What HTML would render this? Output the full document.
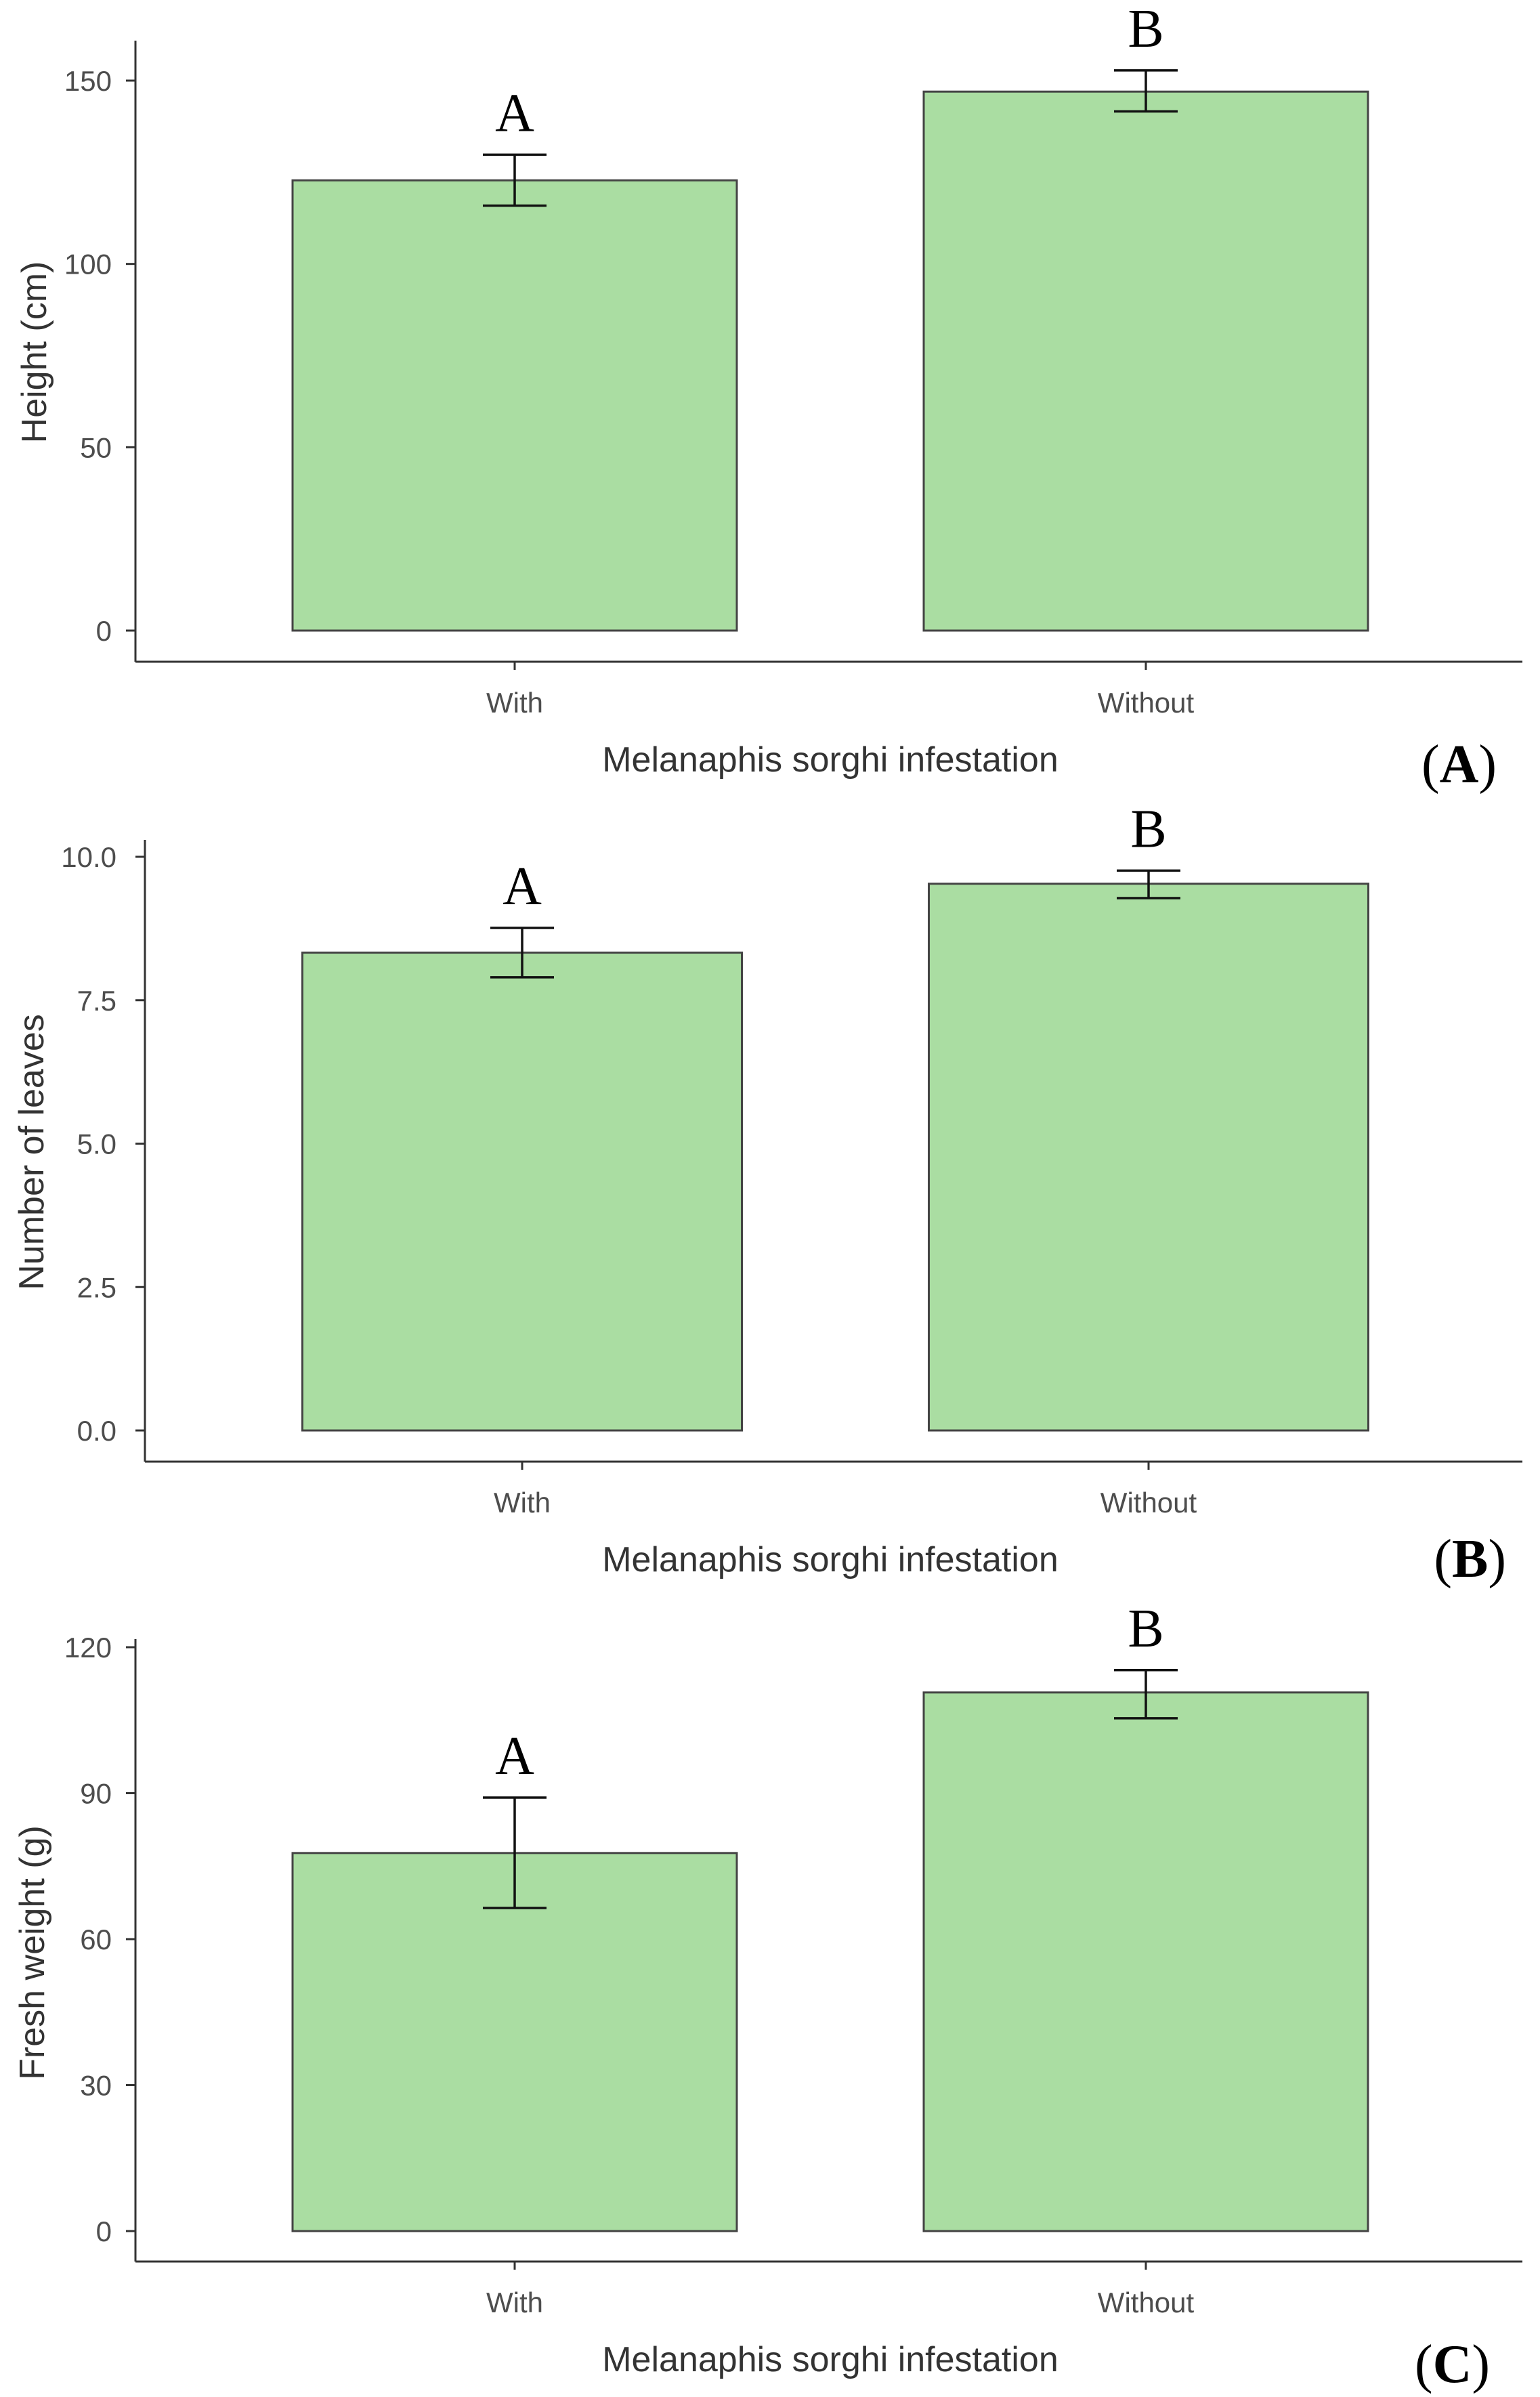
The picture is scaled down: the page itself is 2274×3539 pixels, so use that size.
<!DOCTYPE html>
<html><head><meta charset="utf-8"><style>
html,body{margin:0;padding:0;background:#fff;}
svg{display:block;}
</style></head><body>
<svg id="fig" width="2274" height="3539" viewBox="0 0 2274 3539" xmlns="http://www.w3.org/2000/svg"></svg>
<script>
const categories = ["With", "Without"];
// Panel A: height
const heightMeans = [122.8, 147.0];
const heightLow = [115.9, 141.6];
const heightHigh = [129.8, 152.8];
const heightTicks = [0, 50, 100, 150];
const heightTickLabels = ["0", "50", "100", "150"];
// Panel B: leaves
const leavesMeans = [8.33, 9.53];
const leavesLow = [7.90, 9.28];
const leavesHigh = [8.76, 9.76];
const leavesTicks = [0, 2.5, 5, 7.5, 10];
const leavesTickLabels = ["0.0", "2.5", "5.0", "7.5", "10.0"];
// Panel C: fresh weight
const weightMeans = [77.7, 110.7];
const weightLow = [66.4, 105.4];
const weightHigh = [89.1, 115.3];
const weightTicks = [0, 30, 60, 90, 120];
const weightTickLabels = ["0", "30", "60", "90", "120"];
const letters = ["A", "B"];

const NS = "http://www.w3.org/2000/svg";
const svg = document.getElementById("fig");
function mk(tag, attrs, parent){
  const e = document.createElementNS(NS, tag);
  for (const k in attrs) e.setAttribute(k, attrs[k]);
  (parent||svg).appendChild(e);
  return e;
}

function panel(cfg){
  const g = mk("g", {});
  
  
  const y = v => cfg.y0 - (v - 0) * (cfg.y0 - cfg.yTop) / cfg.vTop;
  const xc = [cfg.bar1c, cfg.bar2c];
  const bw = cfg.barW;
  // axes
  const ya = mk("line", {x1:cfg.ax, y1:cfg.axTop, x2:cfg.ax, y2:cfg.axBot, stroke:"#333", "stroke-width":3}, g);
  
  
  const xa = mk("line", {x1:cfg.ax, y1:cfg.axBot, x2:2248, y2:cfg.axBot, stroke:"#333", "stroke-width":3}, g);
  
  
  cfg.ticks.forEach((t,i)=>{
    const ty = y(t);
    const tk = mk("line", {x1:cfg.ax-14, y1:ty, x2:cfg.ax, y2:ty, stroke:"#333", "stroke-width":3}, g);
    
    
    const tl = mk("text", {x:cfg.labR, y:ty+15, "text-anchor":"end", "font-family":"Liberation Sans, sans-serif", "font-size":42, fill:"#4d4d4d"}, g);
    tl.textContent = cfg.tickLabels[i];
    
    
  });
  categories.forEach((c,i)=>{
    const r = mk("rect", {x:xc[i]-bw/2, y:y(cfg.means[i]), width:bw, height:y(0)-y(cfg.means[i]), fill:"#aadda2", stroke:"#444", "stroke-width":3}, g);
    
    
    const eb = mk("path", {d:`M${xc[i]-47},${y(cfg.high[i])}H${xc[i]+47}M${xc[i]},${y(cfg.high[i])}V${y(cfg.low[i])}M${xc[i]-47},${y(cfg.low[i])}H${xc[i]+47}`, stroke:"#111", "stroke-width":3.5, fill:"none"}, g);
    
    
    const lt = mk("text", {x:xc[i], y:y(cfg.high[i])-35, "text-anchor":"middle", "font-family":"Liberation Serif, serif", "font-size":80, fill:"#000"}, g);
    lt.textContent = letters[i];
    
    
    const xt = mk("line", {x1:xc[i], y1:cfg.axBot, x2:xc[i], y2:cfg.axBot+12, stroke:"#333", "stroke-width":3}, g);
    
    
    const xl = mk("text", {x:xc[i], y:cfg.axBot+75, "text-anchor":"middle", "font-family":"Liberation Sans, sans-serif", "font-size":42, fill:"#4d4d4d"}, g);
    xl.textContent = c;
    
    
  });
  const xtl = mk("text", {x:1226, y:cfg.axBot+162, "text-anchor":"middle", "font-family":"Liberation Sans, sans-serif", "font-size":52, fill:"#333"}, g);
  xtl.textContent = "Melanaphis sorghi infestation";
  
  
  const ytl = mk("text", {x:0, y:0, transform:`translate(${cfg.ytx},${cfg.yty}) rotate(-90)`, "text-anchor":"middle", "font-family":"Liberation Sans, sans-serif", "font-size":52, fill:"#333"}, g);
  ytl.textContent = cfg.ytitle;
  
  
  const pl = mk("text", {x:cfg.plx, y:cfg.ply, "text-anchor":"end", "font-family":"Liberation Serif, serif", "font-size":80, fill:"#000"}, g);
  pl.innerHTML = '(<tspan font-weight="bold">' + cfg.plabel + '</tspan>)';
  
  
}

panel({name:"panel-a-height", means:heightMeans, low:heightLow, high:heightHigh, ticks:heightTicks, tickLabels:heightTickLabels,
  y0:931, yTop:119, vTop:150, ax:200, axTop:60, axBot:977, labR:165, bar1c:760, bar2c:1692, barW:656,
  ytitle:"Height (cm)", ytx:68, yty:520, plabel:"A", plx:2210, ply:1155});
panel({name:"panel-b-leaves", means:leavesMeans, low:leavesLow, high:leavesHigh, ticks:leavesTicks, tickLabels:leavesTickLabels,
  y0:2112, yTop:1265, vTop:10, ax:214, axTop:1240, axBot:2158, labR:172, bar1c:771, bar2c:1696, barW:649,
  ytitle:"Number of leaves", ytx:64, yty:1701, plabel:"B", plx:2224, ply:2328});
panel({name:"panel-c-fresh-weight", means:weightMeans, low:weightLow, high:weightHigh, ticks:weightTicks, tickLabels:weightTickLabels,
  y0:3294, yTop:2432, vTop:120, ax:200, axTop:2420, axBot:3339, labR:165, bar1c:760, bar2c:1692, barW:656,
  ytitle:"Fresh weight (g)", ytx:65, yty:2883, plabel:"C", plx:2200, ply:3517});
</script>
</body></html>
